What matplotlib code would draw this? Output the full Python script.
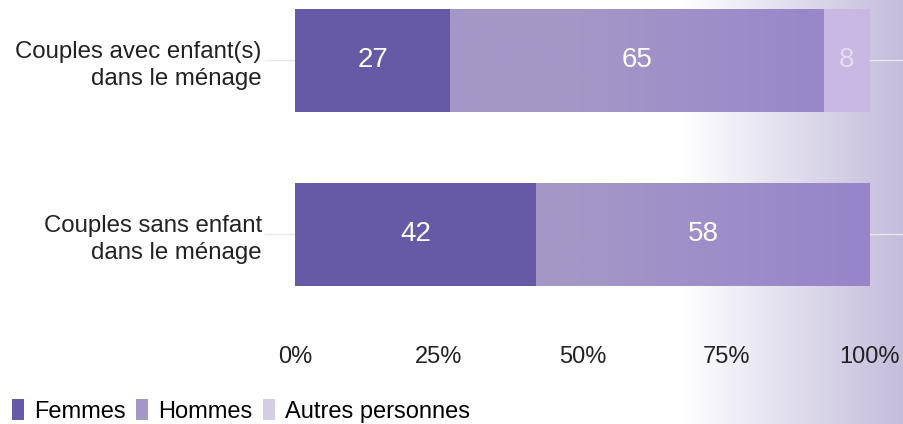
import numpy as np
import matplotlib.pyplot as plt
from matplotlib.colors import LinearSegmentedColormap
from matplotlib.patches import Patch

plt.rcParams['font.family'] = ['Liberation Sans', 'DejaVu Sans']

categories = ['Couples avec enfant(s)\ndans le ménage', 'Couples sans enfant\ndans le ménage']
series = ['Femmes', 'Hommes', 'Autres personnes']
femmes = [27, 42]
hommes = [65, 58]
autres = [8, 0]
ticks = [0, 25, 50, 75, 100]
tick_labels = ['0%', '25%', '50%', '75%', '100%']

colors = ['#6659a5', '#a397c7', '#c8b8e3']
legend_colors = ['#6659a5', '#a397c7', '#d5cce6']
label_colors = ['white', 'white', '#e4dcf2']

fig = plt.figure(figsize=(9.04, 4.24), dpi=100)

# background gradient on the right side
bg = fig.add_axes([0, 0, 1, 1], zorder=-10)
W = 904
grad = np.clip((np.arange(W) - 680) / (W - 680), 0, 1)
cmap = LinearSegmentedColormap.from_list('bg', ['#ffffff', '#c3bcdb'])
bg.imshow(grad[np.newaxis, :], aspect='auto', cmap=cmap, extent=[0, 1, 0, 1],
          vmin=0, vmax=1)
bg.axis('off')

ax = fig.add_axes([295 / 904, 124 / 424, 575 / 904, 300 / 424])
ax.patch.set_alpha(0)

# the "Hommes" bars shift slightly towards a bluer purple on the right
hom_cmap = LinearSegmentedColormap.from_list('hom', ['#a397c7', '#a397c7', '#9784ca'])
xs = np.linspace(0, 100, 300)

y = np.arange(len(categories))
left = np.zeros(len(categories))
for i, (vals, col, lcol) in enumerate(zip([femmes, hommes, autres], colors, label_colors)):
    vals = np.array(vals)
    bars = ax.barh(y, vals, left=left, height=0.592, color=col, zorder=2)
    for b, v in zip(bars, vals):
        if i == 1:
            im = ax.imshow(xs[np.newaxis, :], cmap=hom_cmap, vmin=0, vmax=100,
                           extent=[0, 100, b.get_y() + b.get_height(), b.get_y()],
                           aspect='auto', zorder=2.1)
            im.set_clip_path(b)
        if v > 0:
            ax.text(b.get_x() + b.get_width() / 2, b.get_y() + b.get_height() / 2,
                    str(v), ha='center', va='center', color=lcol, fontsize=20, zorder=3)
    left += vals

# faint guide lines through the category centres
for yy in y:
    ax.axhline(yy, xmin=-30 / 575, xmax=1 + 34 / 575, color='#e8e6ee', lw=1,
               clip_on=False, zorder=1)

ax.set_xlim(0, 100)
ax.set_ylim(1.379, -0.345)
ax.set_yticks(y)
ax.set_yticklabels(categories, fontsize=17.3, color='#222222', linespacing=1.32)
ax.set_xticks(ticks)
ax.set_xticklabels(tick_labels, fontsize=17, color='#222222')
ax.tick_params(axis='both', length=0)
ax.tick_params(axis='x', pad=33)
ax.tick_params(axis='y', pad=24)
for s in ax.spines.values():
    s.set_visible(False)

handles = [Patch(facecolor=c, edgecolor='none') for c in legend_colors]
fig.legend(handles, series, loc='lower left', bbox_to_anchor=(-0.002, -0.03), ncol=3,
           frameon=False, fontsize=17, handlelength=0.5, handleheight=0.95,
           handletextpad=0.42, columnspacing=0.45, borderaxespad=0.2)

fig.savefig('out.png', dpi=100)
